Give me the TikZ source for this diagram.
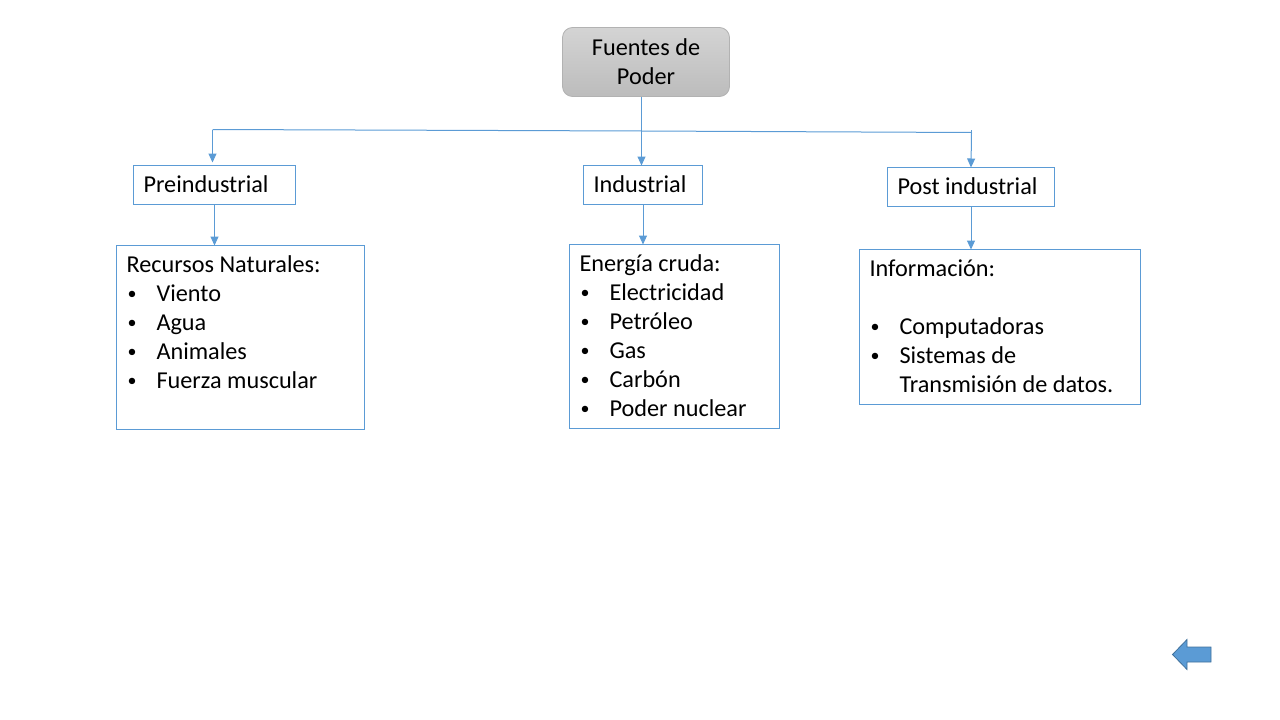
\documentclass[tikz,border=0pt]{standalone}
\usepackage{fontspec}
\setmainfont{Carlito}
\usetikzlibrary{arrows.meta}
\definecolor{lineblue}{HTML}{5B9BD5}
\definecolor{arrowedge}{HTML}{41719C}
\definecolor{srctop}{HTML}{D4D4D4}
\definecolor{srcbot}{HTML}{BCBCBC}
\newcommand{\bulitem}[1]{\makebox[10pt][l]{\hspace{1pt}\raisebox{2.2pt}{\fontsize{18pt}{18pt}\selectfont •}}\hspace{20pt}#1}
\newcommand{\headtext}[1]{\raisebox{1pt}{#1}}
\tikzset{
  x=1pt,y=-1pt,
  every node/.style={font=\fontsize{24.25pt}{29pt}\selectfont,text=black},
  headbox/.style={draw=lineblue,line width=1pt,fill=white,rectangle,anchor=north west,inner xsep=10pt,inner ysep=0pt,outer sep=0pt,align=flush left},
  listbox/.style={headbox},
  flow/.style={draw=lineblue,line width=1pt},
  flowarrow/.style={flow,-{Triangle[length=9pt,width=8pt]}},
}
\begin{document}
\begin{tikzpicture}
\useasboundingbox (0,0) rectangle (1280,720);
\node[rectangle,rounded corners=10pt,draw=black!30,line width=0.8pt,top color=srctop,bottom color=srcbot,anchor=north west,outer sep=0pt,minimum width=167pt,minimum height=69pt,inner sep=0pt,align=center] (src) at (562.5,27.5) {Fuentes de\\Poder};
\node[headbox,minimum width=162pt,minimum height=39pt,text width=142pt] (pre) at (133.5,165.5) {\headtext{Preindustrial}};
\node[headbox,minimum width=119pt,minimum height=39pt,text width=99pt] (ind) at (583.5,165.5) {\headtext{Industrial}};
\node[headbox,minimum width=167pt,minimum height=39pt,text width=147pt] (post) at (887.5,167.5) {\headtext{Post industrial}};
\node[listbox,minimum width=248pt,minimum height=184pt,text width=228pt] (rec) at (116.5,245.5) {Recursos Naturales:\\\bulitem{Viento}\\\bulitem{Agua}\\\bulitem{Animales}\\\bulitem{Fuerza muscular}\\\mbox{}\rule[-1.5pt]{0pt}{1pt}};
\node[listbox,minimum width=210pt,minimum height=184pt,text width=190pt] (ene) at (569.5,244.5) {Energía cruda:\\\bulitem{Electricidad}\\\bulitem{Petróleo}\\\bulitem{Gas}\\\bulitem{Carbón}\\\bulitem{Poder nuclear}\rule[-1pt]{0pt}{1pt}};
\node[listbox,minimum width=281pt,minimum height=155pt,text width=261pt] (inf) at (859.5,249.5) {Información:\\\mbox{}\\\bulitem{Computadoras}\\\bulitem{Sistemas de}\\\hspace{30pt}Transmisión de datos.\rule[-2pt]{0pt}{1pt}};
\coordinate (barL) at (212.5,129.5);
\coordinate (barM) at (641.5,131);
\coordinate (barR) at (971.5,132.5);
\draw[flow] (barL) -- (barM) -- (barR);
\draw[flow] (barR) -- ++(0,-3);
\draw[flowarrow,shorten >=3pt] (barL) -- (barL |- pre.north);
\draw[flowarrow] (src.south -| barM) -- (barM |- ind.north);
\draw[flowarrow] (barR) -- (post.north);
\draw[flowarrow] (pre.south) -- (pre.south |- rec.north);
\draw[flowarrow] (ind.south) -- (ind.south |- ene.north);
\draw[flowarrow] (post.south) -- (post.south |- inf.north);
\draw[draw=arrowedge,fill=lineblue,line width=0.8pt] (1172.5,654.5) -- (1187,639.5) -- (1187,647) -- (1211,647) -- (1211,662) -- (1187,662) -- (1187,669.5) -- cycle;
\end{tikzpicture}
\end{document}
